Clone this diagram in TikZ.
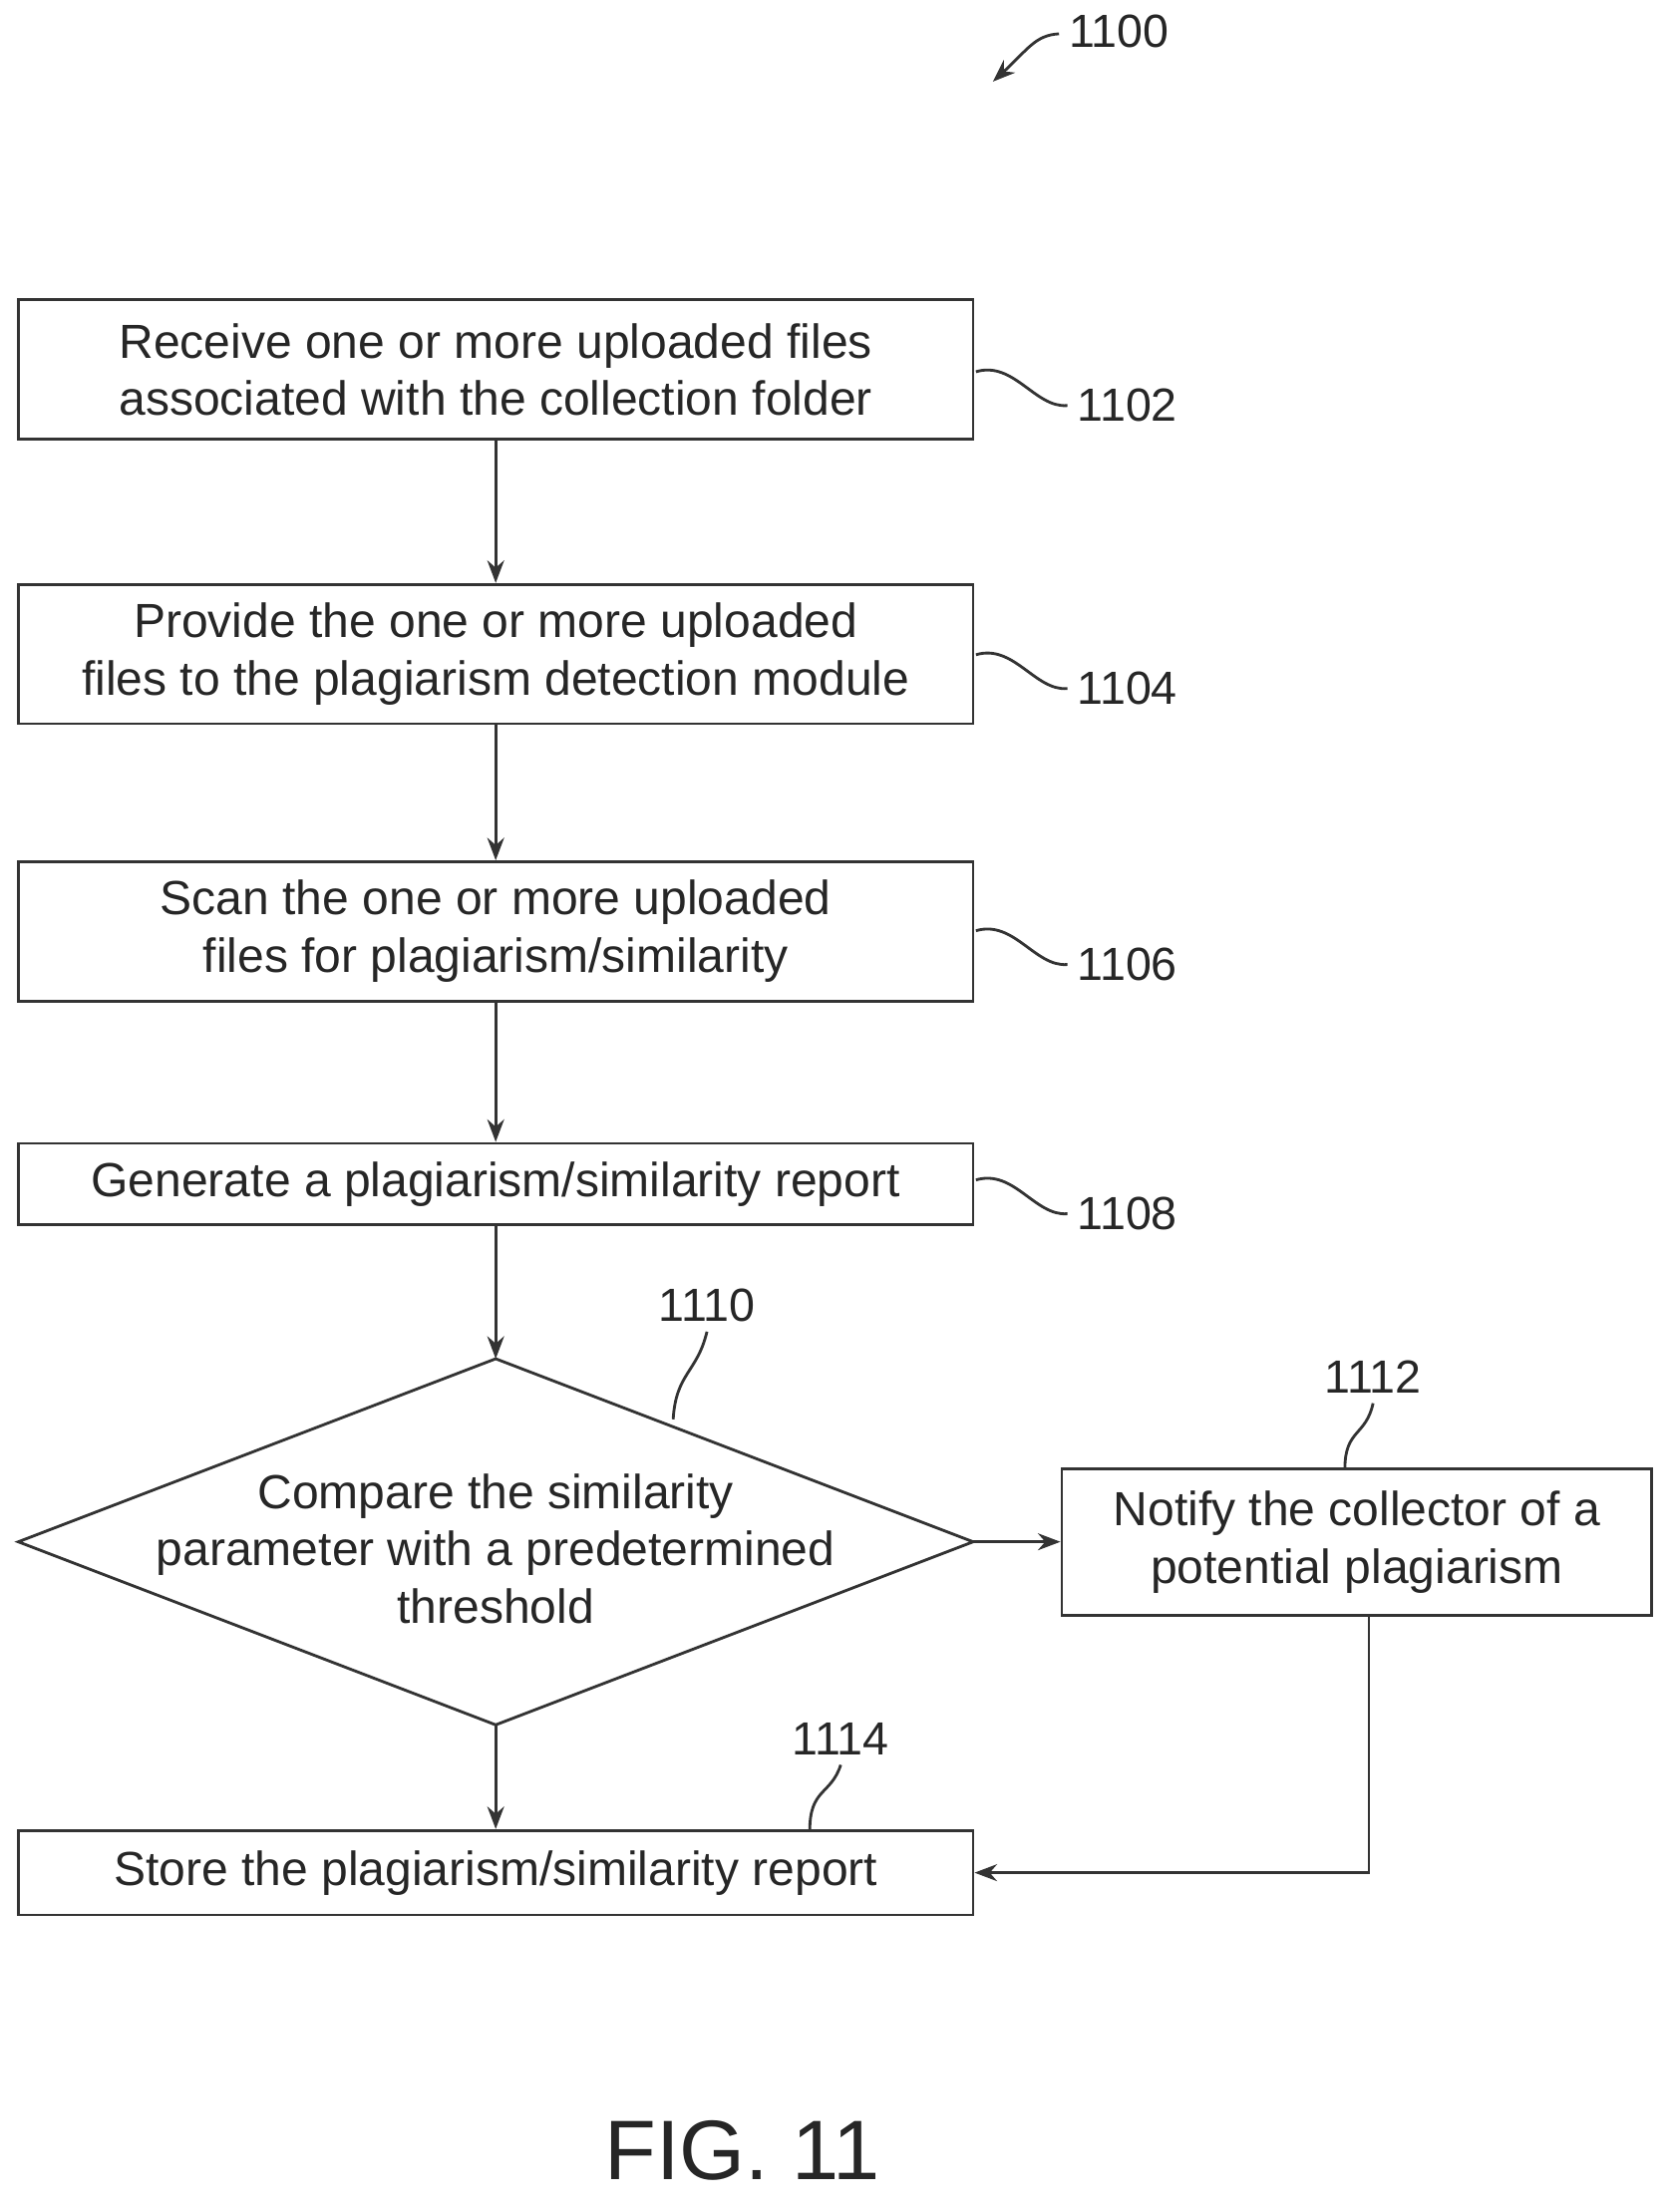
\documentclass[tikz,border=0pt]{standalone}
\usepackage{fontspec}
\setmainfont{Liberation Sans}
\usetikzlibrary{shapes.geometric,arrows.meta}
\begin{document}
\begin{tikzpicture}[x=0.5pt,y=-0.5pt,
  box/.style={draw=black!80,line width=1pt,minimum height=#1*0.5pt,align=center,inner sep=0pt,font=\fontsize{17}{20.5}\selectfont,text=black!85},
  box/.default=99,
  arr/.style={-{Stealth[length=8pt,width=6pt]},line width=1pt,draw=black!80},
  lead/.style={line width=1pt,draw=black!80},
  lab/.style={font=\fontsize{16.5}{20}\selectfont,text=black!85}]
\useasboundingbox (0,0) rectangle (1190,1571);
\node[box,minimum width=339pt] (b1) at (352,262.5) {Receive one or more uploaded files\\associated with the collection folder};
\node[box,minimum width=339pt] (b2) at (352,464.5) {Provide the one or more uploaded\\files to the plagiarism detection module};
\node[box,minimum width=339pt] (b3) at (352,661.5) {Scan the one or more uploaded\\files for plagiarism/similarity};
\node[box=58,minimum width=339pt] (b4) at (352,841) {Generate a plagiarism/similarity report};
\coordinate (dn) at (352,965);
\coordinate (ds) at (352,1225);
\coordinate (dw) at (13,1095);
\coordinate (de) at (691,1095);
\draw[line width=1pt,draw=black!80] (dn) -- (de) -- (ds) -- (dw) -- cycle;
\node[align=center,font=\fontsize{17}{20.5}\selectfont,text=black!85] (dt) at (352,1100) {Compare the similarity\\parameter with a predetermined\\threshold};
\node[box=104,minimum width=209.5pt] (b5) at (963.5,1095) {Notify the collector of a\\potential plagiarism};
\node[box=60,minimum width=339pt] (b6) at (352,1330) {Store the plagiarism/similarity report};
\draw[arr] (b1) -- (b2);
\draw[arr] (b2) -- (b3);
\draw[arr] (b3) -- (b4);
\draw[arr] (b4) -- (dn);
\draw[arr] (ds) -- (b6);
\draw[arr] (de) -- (b5);
\coordinate (c5) at (972,1147);
\draw[arr] (c5) |- (b6.east);
% labels
\node[lab,anchor=west] (l1100) at (752,22) {1100};
\draw[lead,-{Stealth[length=8pt,width=6pt]}] (752,24) .. controls (735,25) and (730,35) .. (705,58);
\node[lab,anchor=west] (l1102) at (758,288) {1102};
\draw[lead] (693,264) .. controls (720,256) and (735,290) .. (l1102.west);
\node[lab,anchor=west] (l1104) at (758,489) {1104};
\draw[lead] (693,465) .. controls (720,457) and (735,491) .. (l1104.west);
\node[lab,anchor=west] (l1106) at (758,685) {1106};
\draw[lead] (693,661) .. controls (720,653) and (735,687) .. (l1106.west);
\node[lab,anchor=west] (l1108) at (758,862) {1108};
\draw[lead] (693,838) .. controls (720,830) and (735,864) .. (l1108.west);
\node[lab] (l1110) at (502,927) {1110};
\draw[lead] (l1110.south) .. controls (495,975) and (480,975) .. (478,1008);
\node[lab] (l1112) at (975,978) {1112};
\draw[lead] (l1112.south) .. controls (970,1020) and (955,1015) .. (955,1043);
\node[lab] (l1114) at (597,1235) {1114};
\draw[lead] (l1114.south) .. controls (590,1275) and (575,1270) .. (575,1300);
\node[font=\fontsize{30}{34}\selectfont,text=black!85] (fig) at (527,1527) {FIG. 11};
\end{tikzpicture}
\end{document}
